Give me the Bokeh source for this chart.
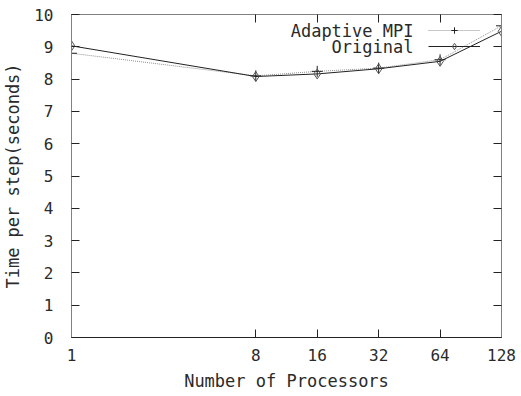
from bokeh.plotting import figure
from bokeh.models import (LogAxis, LinearAxis, FixedTicker, Range1d, Legend, LegendItem,
                          CustomJSTickFormatter, Label)
from bokeh.embed import file_html
from bokeh.resources import INLINE

processors = [1, 8, 16, 32, 64, 128]
adaptive_mpi = [8.80, 8.10, 8.24, 8.34, 8.60, 9.65]
original = [9.03, 8.08, 8.16, 8.32, 8.55, 9.48]
y_ticks = [0, 1, 2, 3, 4, 5, 6, 7, 8, 9, 10]
series_names = ["Adaptive MPI", "Original"]

FONT = "DejaVu Sans Mono"
FS = "16px"
FS_LABEL = "17px"
TXT = "#2a2a2a"

p = figure(width=521, height=396, x_axis_type="log", output_backend="svg",
           toolbar_location=None, x_range=Range1d(1, 128), y_range=Range1d(0, 10),
           x_axis_label="Number of Processors", y_axis_label="Time per step(seconds)")
p.min_border_left = 71
p.min_border_right = 20
p.min_border_top = 14
p.min_border_bottom = 59
p.grid.visible = False
p.outline_line_color = "#808080"
p.background_fill_color = "white"
p.border_fill_color = "white"

def style(ax):
    ax.major_tick_in = 8
    ax.major_tick_out = 0
    ax.minor_tick_in = 0
    ax.minor_tick_out = 0
    ax.major_tick_line_color = "#222222"
    ax.axis_line_color = "#808080"
    ax.major_label_text_font = FONT
    ax.major_label_text_font_size = FS
    ax.major_label_text_color = TXT
    ax.axis_label_text_font = FONT
    ax.axis_label_text_font_size = FS_LABEL
    ax.axis_label_text_font_style = "normal"
    ax.axis_label_text_color = TXT

xa = p.xaxis[0]
style(xa)
xa.ticker = FixedTicker(ticks=processors)
xa.formatter = CustomJSTickFormatter(code="return String(Math.round(tick));")
xa.major_label_standoff = 11
xa.axis_label_standoff = 7
xa.axis_line_color = "#222222"

ya = p.yaxis[0]
style(ya)
ya.ticker = FixedTicker(ticks=y_ticks)
ya.major_label_standoff = 18
ya.axis_label_standoff = 8

blank = CustomJSTickFormatter(code="return '';")
top = LogAxis(ticker=FixedTicker(ticks=processors), formatter=blank)
style(top)
top.major_label_standoff = 0
p.add_layout(top, "above")
right = LinearAxis(ticker=FixedTicker(ticks=y_ticks), formatter=blank)
style(right)
right.major_label_standoff = 0
p.add_layout(right, "right")

# Adaptive MPI: dotted light line with + markers
l1 = p.line(processors, adaptive_mpi, line_color="#909090", line_width=1, line_dash="1 1")
m1 = p.scatter(processors, adaptive_mpi, marker="cross", size=11, line_color="#222222", line_width=1)
# Original: solid dark line with open diamonds
l2 = p.line(processors, original, line_color="#222222", line_width=1)
m2 = p.scatter(processors, original, marker="diamond", size=10, line_color="#555555",
               fill_color="white", fill_alpha=0, line_width=1)

# gnuplot-style key: text right-aligned to the left of the line samples
legend = Legend(items=[LegendItem(label=" ", renderers=[l1, m1]),
                       LegendItem(label=" ", renderers=[l2, m2])],
                location=(357, 283), glyph_width=52, glyph_height=16, label_height=16,
                label_width=0, spacing=0, padding=0, margin=0, label_standoff=0,
                label_text_font=FONT, label_text_font_size="2px",
                border_line_alpha=0, background_fill_alpha=0)
p.add_layout(legend, "center")

for i, name in enumerate(series_names):
    p.add_layout(Label(x=342, y=307 - 16 * i, x_units="screen", y_units="screen",
                       text=name, text_align="right", text_baseline="middle",
                       text_font=FONT, text_font_size=FS_LABEL, text_color=TXT))

open("out.html", "w").write(file_html(p, INLINE))
